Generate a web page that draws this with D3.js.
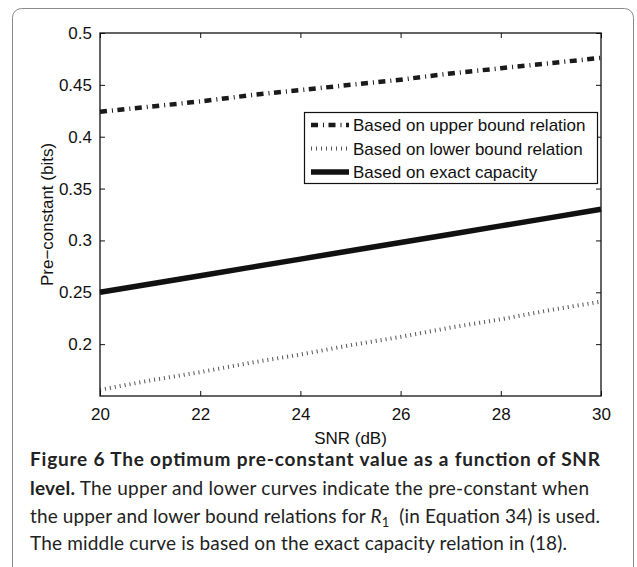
<!DOCTYPE html>
<html>
<head>
<meta charset="utf-8">
<script src="https://cdn.jsdelivr.net/npm/d3@7"></script>
<style>
  body { margin: 0; background: #fff; }
  svg { display: block; }
  .axis text { font-family: "Liberation Sans", Arial, sans-serif; font-size: 17px; fill: #111; }
  .caption { font-family: Lato, "Open Sans", sans-serif; font-size: 19px; fill: #222; }
</style>
</head>
<body>
<script>
const snr = [20, 21, 22, 23, 24, 25, 26, 27, 28, 29, 30]
const upperBound = [0.424, 0.429, 0.434, 0.440, 0.445, 0.450, 0.455, 0.461, 0.466, 0.471, 0.476]
const lowerBound = [0.156, 0.165, 0.173, 0.182, 0.190, 0.199, 0.207, 0.216, 0.224, 0.233, 0.241]
const exactCap = [0.250, 0.258, 0.266, 0.274, 0.282, 0.290, 0.298, 0.306, 0.314, 0.322, 0.330]
const xTicks = [20, 22, 24, 26, 28, 30]
const yTicks = [0.2, 0.25, 0.3, 0.35, 0.4, 0.45, 0.5]
const legendLabels = ['Based on upper bound relation', 'Based on lower bound relation', 'Based on exact capacity']

const width = 637
const height = 567
const margin = { top: 33, right: 36, bottom: 171, left: 100 }

const styles = [
  { stroke: '#1a1a1a', width: 4.5, dash: '7 5 1 4.5' },
  { stroke: '#555', width: 4, dash: '1 4' },
  { stroke: '#111', width: 5.5, dash: null },
]
const series = [upperBound, lowerBound, exactCap]

const svg = d3.select('body').append('svg').attr('width', width).attr('height', height)

// outer figure frame
svg.append('rect')
  .attr('x', 12.5).attr('y', 8.5).attr('width', 621).attr('height', 640)
  .attr('rx', 9).attr('fill', 'none').attr('stroke', '#8a8a8a')

const x = d3.scaleLinear().domain([20, 30]).range([margin.left, width - margin.right])
const y = d3.scaleLinear().domain([0.15, 0.5]).range([height - margin.bottom, margin.top])

const x0 = x.range()[0], x1 = x.range()[1]
const y0 = y.range()[0], y1 = y.range()[1]

// lines
const line = d3.line().x((d, i) => x(snr[i])).y(d => y(d))
series.forEach((s, k) => {
  svg.append('path')
    .datum(s)
    .attr('d', line)
    .attr('fill', 'none')
    .attr('stroke', styles[k].stroke)
    .attr('stroke-width', styles[k].width)
    .attr('stroke-dasharray', styles[k].dash)
})

// axes, matlab style: ticks inward on all sides
svg.append('g').attr('class', 'axis')
  .attr('transform', `translate(0,${y0})`)
  .call(d3.axisBottom(x).tickValues(xTicks).tickSize(-5).tickPadding(12).tickFormat(d3.format('d')))
  .call(g => g.select('.domain').remove())
svg.append('g').attr('class', 'axis')
  .attr('transform', `translate(0,${y1})`)
  .call(d3.axisTop(x).tickValues(xTicks).tickSize(-5).tickFormat(() => ''))
  .call(g => g.select('.domain').remove())
svg.append('g').attr('class', 'axis')
  .attr('transform', `translate(${x0},0)`)
  .call(d3.axisLeft(y).tickValues(yTicks).tickSize(-5).tickPadding(8).tickFormat(d => d3.format('')(+d.toFixed(2))))
  .call(g => g.select('.domain').remove())
svg.append('g').attr('class', 'axis')
  .attr('transform', `translate(${x1},0)`)
  .call(d3.axisRight(y).tickValues(yTicks).tickSize(-5).tickFormat(() => ''))
  .call(g => g.select('.domain').remove())
svg.selectAll('.axis .tick line').attr('stroke', '#111')

svg.append('rect')
  .attr('x', x0).attr('y', y1).attr('width', x1 - x0).attr('height', y0 - y1)
  .attr('fill', 'none').attr('stroke', '#111').attr('stroke-width', 1.3)

// axis titles
svg.append('text').attr('class', 'axis')
  .attr('x', (x0 + x1) / 2).attr('y', y0 + 48)
  .attr('text-anchor', 'middle')
  .style('font-family', '"Liberation Sans", Arial, sans-serif').style('font-size', '17px').attr('fill', '#111')
  .text('SNR (dB)')
svg.append('text')
  .attr('transform', `translate(53,${(y0 + y1) / 2}) rotate(-90)`)
  .attr('text-anchor', 'middle')
  .style('font-family', '"Liberation Sans", Arial, sans-serif').style('font-size', '17px').attr('fill', '#111')
  .text('Pre\u2212constant (bits)')

// legend
const legend = svg.append('g')
legend.append('rect')
  .attr('x', 304.5).attr('y', 112.5).attr('width', 293).attr('height', 71)
  .attr('fill', '#fff').attr('stroke', '#111').attr('stroke-width', 1.2)
legendLabels.forEach((lab, k) => {
  const ly = 125 + k * 23.5
  legend.append('line')
    .attr('x1', 311).attr('x2', 349).attr('y1', ly).attr('y2', ly)
    .attr('stroke', styles[k].stroke)
    .attr('stroke-width', styles[k].width)
    .attr('stroke-dasharray', styles[k].dash)
  legend.append('text')
    .attr('x', 353).attr('y', ly + 6)
    .style('font-family', '"Liberation Sans", Arial, sans-serif').style('font-size', '17px').attr('fill', '#111')
    .text(lab)
})

// caption
const cap = svg.append('g').attr('class', 'caption')
const lineY = [466, 495, 523, 550]

let t = cap.append('text').attr('x', 30).attr('y', lineY[0]).attr('textLength', 570)
t.append('tspan').attr('font-weight', 700).text('Figure 6 The optimum pre-constant value as a function of SNR')

t = cap.append('text').attr('x', 30).attr('y', lineY[1]).attr('textLength', 559)
t.append('tspan').attr('font-weight', 700).text('level.')
t.append('tspan').text(' The upper and lower curves indicate the pre-constant when')

t = cap.append('text').attr('x', 30).attr('y', lineY[2]).attr('textLength', 570)
t.append('tspan').text('the upper and lower bound relations for ')
t.append('tspan').attr('font-style', 'italic').text('R')
t.append('tspan').attr('font-size', '13px').attr('dy', 4).text('1')
t.append('tspan').attr('dy', -4).text(' \u00a0(in Equation 34) is used.')

cap.append('text').attr('x', 30).attr('y', lineY[3]).attr('textLength', 537)
  .text('The middle curve is based on the exact capacity relation in (18).')
</script>
</body>
</html>
